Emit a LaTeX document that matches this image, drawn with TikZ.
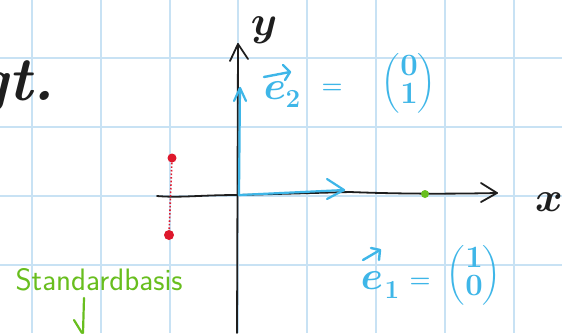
\RequirePackage{fix-cm}
\documentclass[tikz,border=0pt]{standalone}
\usepackage{amsmath}
\definecolor{gridblue}{RGB}{200,226,244}
\definecolor{penblue}{RGB}{62,182,232}
\definecolor{pengreen}{RGB}{104,190,30}
\definecolor{penred}{RGB}{222,24,44}
\definecolor{penblack}{RGB}{30,30,30}
\tikzset{
  ink/.style={line width=1.8pt, line cap=round, line join=round},
  etxt/.style={font=\fontsize{40}{44}\selectfont\boldmath, inner sep=0pt},
  subtxt/.style={font=\fontsize{26}{30}\selectfont\boldmath, inner sep=0pt},
  eqtxt/.style={font=\fontsize{24}{28}\selectfont\boldmath, inner sep=0pt},
  mattxt/.style={font=\fontsize{31}{34}\selectfont\boldmath, inner sep=0pt},
  vecbar/.style={ink, penblue, line width=2.4pt},
}
\begin{document}
\begin{tikzpicture}[x=1pt,y=-1pt]
\useasboundingbox (0,0) rectangle (562,333);
\clip (0,0) rectangle (562,333);
\fill[white] (0,0) rectangle (562,333);
% grid
\foreach \gx in {32,101,170,238,307,376,445,514}
  \draw[gridblue, line width=1.4pt] (\gx,0) -- (\gx,333);
\foreach \gy in {58,127,196,265}
  \draw[gridblue, line width=1.4pt] (0,\gy) -- (562,\gy);
% coordinates
\coordinate (O) at (239,195);
\coordinate (xs) at (157,196);
\coordinate (xe) at (497,193);
\coordinate (ys) at (237,333);
\coordinate (ye) at (238,44);
\coordinate (e2t) at (240,88);
\coordinate (e1t) at (344,190);
% axes
\draw[ink, penblack] (xs) .. controls (180,198) and (200,195) .. (O)
  -- (350,192) .. controls (400,194) and (450,194) .. (xe);
\draw[ink, penblack] (481,183) -- (xe) -- (481,202);
\draw[ink, penblack] (ys) -- (ye);
\draw[ink, penblack] (230,61) -- (ye) -- (248,59);
\node[penblack, font=\fontsize{42}{44}\selectfont\boldmath, inner sep=0pt] (ylab) at (264,30) {$y$};
\node[penblack, font=\fontsize{42}{44}\selectfont\boldmath, inner sep=0pt] (xlab) at (549,202) {$x$};
% basis vectors
\draw[ink, penblue, line width=2.2pt] (O) -- (e2t);
\draw[ink, penblue, line width=2.2pt] (234,101) -- (e2t) -- (246,101);
\draw[ink, penblue, line width=2.2pt] (O) -- (e1t);
\draw[ink, penblue, line width=2.2pt] (327,179) -- (e1t) -- (327,199);
% label e2
\node[penblue, etxt] (e2) at (275,91) {$e$};
\node[penblue, subtxt] (s2) at (293,99) {$2$};
\coordinate (a2s) at (264,77);
\coordinate (a2e) at (290,72);
\draw[vecbar] (a2s) -- (a2e);
\draw[vecbar] (283,65) -- (a2e) -- (285,80);
\node[penblue, eqtxt] (eq2) at (332,89) {$=$};
\node[penblue, mattxt] (m2) at (409,83) {$\begin{pmatrix}0\\[-6pt]1\end{pmatrix}$};
% label e1
\node[penblue, etxt] (e1) at (372,281) {$e$};
\node[penblue, subtxt] (s1) at (392,290) {$1$};
\coordinate (a1s) at (363,260);
\coordinate (a1e) at (380,250);
\draw[vecbar] (a1s) -- (a1e);
\draw[vecbar] (371,248) -- (a1e) -- (379,260);
\node[penblue, eqtxt] (eq1) at (420,283) {$=$};
\node[penblue, mattxt] (m1) at (474,275) {$\begin{pmatrix}1\\[-6pt]0\end{pmatrix}$};
% red points
\node[circle, fill=penred, inner sep=0pt, minimum size=9pt] (r1) at (172,158) {};
\node[circle, fill=penred, inner sep=0pt, minimum size=10pt] (r2) at (169,235) {};
\draw[penred, line width=1.6pt, dotted] (r1) -- (r2);
% green point
\node[circle, fill=pengreen, inner sep=0pt, minimum size=8pt] (g1) at (425,194) {};
% texts
\node[penblack, font=\fontsize{62}{64}\bfseries\itshape\selectfont, anchor=base east] (gt) at (58,100) {gt.};
\node[pengreen, font=\fontsize{31}{34}\sffamily\selectfont, anchor=base west] (std) at (12,290) {Standardbasis};
\draw[ink, pengreen, line width=2.2pt] (84,298) -- (83,333);
\draw[ink, pengreen, line width=2.2pt] (74,320) -- (82,333);
\end{tikzpicture}
\end{document}
